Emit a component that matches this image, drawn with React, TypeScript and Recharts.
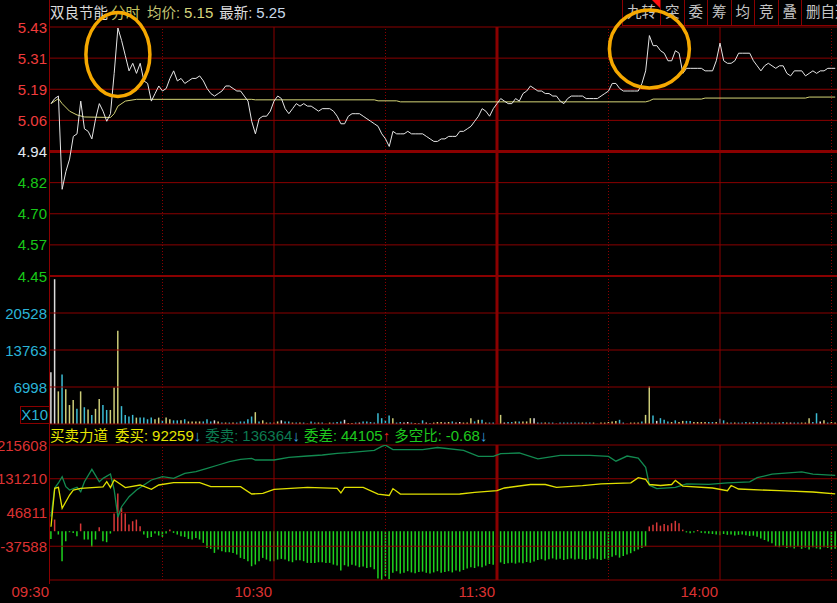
import React from 'react';
import { ComposedChart, Line, Bar, Cell, XAxis, YAxis, ReferenceLine, ReferenceDot } from 'recharts';

// ---------- header / labels ----------
const stockName = '双良节能';
const viewName = '分时';
const avgPriceText = '5.15';
const lastPriceText = '5.25';
const toolButtons = ['九转', '突', '委', '筹', '均', '竞', '叠', '删自选'];

const indicatorName = '买卖力道';
const buyVolume = '92259';
const sellVolume = '136364';
const diffVolume = '44105';
const ratioText = '-0.68';

// ---------- axes ----------
const prevClose = 4.94;
const priceTicks = [5.434, 5.3105, 5.187, 5.0635, 4.94, 4.8165, 4.693, 4.5695, 4.446];
const priceTickLabels = ['5.43', '5.31', '5.19', '5.06', '4.94', '4.82', '4.70', '4.57', '4.45'];

const volumeTicks = [233, 6998, 13763, 20528];
const volumeTickLabels = ['', '6998', '13763', '20528'];
const volumeTop = 27293;
const volumeUnitLabel = 'X10';

const forceTicks = [-121987, -37588, 46811, 131210, 215608];
const forceTickLabels = ['', '-37588', '46811', '131210', '215608'];

const timeTicks = [0, 60, 120, 180];
const timeLabels = ['09:30', '10:30', '11:30', '14:00'];
const solidGridMinutes = [60, 120, 180];
const dottedGridMinutes = [30, 90, 150, 210];
const lunchMinute = 120;
const dayMinutes = 240;

// ---------- series (one value per minute from 09:30) ----------
const priceSeries = [
  5.13, 5.15, 5.16, 4.79, 4.86, 4.91, 5.00, 5.01, 5.14, 5.03, 5.02, 4.99, 5.07, 5.13, 5.10, 5.06, 5.09, 5.25, 5.43, 5.38,
  5.32, 5.26, 5.29, 5.25, 5.29, 5.22, 5.21, 5.14, 5.17, 5.20, 5.18, 5.19, 5.23, 5.26, 5.22, 5.23, 5.21, 5.22, 5.23, 5.23,
  5.24, 5.22, 5.19, 5.17, 5.16, 5.17, 5.18, 5.20, 5.20, 5.19, 5.18, 5.18, 5.16, 5.14, 5.06, 5.01, 5.07, 5.08, 5.08, 5.10,
  5.14, 5.16, 5.15, 5.11, 5.09, 5.11, 5.13, 5.12, 5.13, 5.12, 5.12, 5.11, 5.10, 5.11, 5.11, 5.11, 5.10, 5.08, 5.05, 5.05,
  5.08, 5.09, 5.09, 5.09, 5.08, 5.07, 5.06, 5.05, 5.04, 5.01, 4.99, 4.96, 5.02, 5.01, 5.01, 5.01, 5.02, 5.01, 5.01, 5.01,
  5.01, 5.00, 4.99, 4.98, 4.98, 4.99, 4.99, 5.00, 5.00, 5.00, 5.02, 5.02, 5.03, 5.04, 5.06, 5.08, 5.11, 5.10, 5.08, 5.11,
  5.13, 5.15, 5.14, 5.13, 5.13, 5.15, 5.14, 5.17, 5.18, 5.20, 5.19, 5.18, 5.18, 5.17, 5.17, 5.16, 5.16, 5.14, 5.13, 5.15,
  5.16, 5.16, 5.16, 5.16, 5.15, 5.15, 5.15, 5.15, 5.16, 5.17, 5.18, 5.21, 5.21, 5.19, 5.18, 5.18, 5.18, 5.18, 5.18, 5.21,
  5.26, 5.40, 5.36, 5.36, 5.34, 5.33, 5.30, 5.30, 5.34, 5.33, 5.25, 5.27, 5.27, 5.27, 5.27, 5.27, 5.26, 5.26, 5.26, 5.30,
  5.37, 5.30, 5.29, 5.29, 5.30, 5.33, 5.33, 5.33, 5.33, 5.30, 5.28, 5.26, 5.28, 5.29, 5.28, 5.27, 5.28, 5.28, 5.25, 5.24,
  5.26, 5.26, 5.26, 5.24, 5.25, 5.26, 5.25, 5.26, 5.26, 5.27, 5.27, 5.27,
];

// average price: sampled minutes
const avgMinutes = [0, 2, 3, 5, 7, 9, 16, 17, 18, 20, 23, 54, 55, 87, 88, 93, 94, 160, 161, 162, 175, 176, 203, 204, 211];
const avgValues = [5.13, 5.15, 5.13, 5.10, 5.085, 5.077, 5.075, 5.09, 5.12, 5.14, 5.147, 5.147, 5.145, 5.145, 5.141, 5.141, 5.137, 5.137, 5.141, 5.148, 5.148, 5.152, 5.152, 5.156, 5.156];

const volumeSeries = [
  9700, 26700, 6200, 9300, 6600, 3700, 4600, 3000, 6200, 3300, 2900, 1900, 3000, 4800, 3700, 2800, 2800, 6900, 17300, 3500,
  1900, 1600, 1900, 1400, 1400, 1400, 1100, 1400, 1100, 1400, 900, 1400, 1100, 900, 900, 900, 1100, 700, 700, 700,
  700, 700, 1100, 700, 900, 700, 500, 500, 500, 500, 500, 700, 700, 1100, 1600, 2400, 700, 900, 500, 500,
  500, 700, 900, 700, 700, 500, 500, 500, 500, 300, 700, 500, 500, 500, 300, 500, 500, 600, 700, 1000,
  400, 400, 500, 500, 700, 700, 600, 500, 2200, 1300, 900, 1800, 1300, 500, 600, 500, 600, 500, 400, 400,
  900, 500, 400, 500, 600, 600, 500, 600, 700, 500, 600, 500, 500, 1300, 700, 1000, 1000, 500, 500, 500,
  600, 1900, 500, 600, 600, 700, 700, 700, 700, 1300, 1300, 500, 500, 500, 500, 500, 300, 500, 500, 500,
  500, 500, 500, 500, 500, 500, 500, 300, 500, 500, 600, 700, 800, 1000, 500, 300, 500, 500, 500, 700,
  1900, 7100, 1800, 800, 1300, 1000, 700, 600, 900, 600, 800, 800, 800, 600, 600, 600, 600, 600, 600, 600,
  1200, 900, 500, 500, 500, 500, 500, 600, 500, 600, 600, 500, 500, 500, 500, 500, 500, 600, 500, 500,
  500, 500, 500, 500, 1300, 600, 2200, 700, 900, 500, 600, 500,
];
// y = price up tick, c = down tick, w = unchanged
const volumeDirections =
  'wwycyyycycycyyccyyyc' + 'cccyccccyycyyccycyyy' + 'ycccwycycycccccycyyc' + 'yywccycycyccycyycccw' +
  'yycwccccccccyccwwcyc' + 'cwcyyywycwwyyycycycc' + 'cywccycyyywccyccwccc' + 'cccyccycyyyyyccwyyyc' +
  'yycwcccycyyccyyyyccy' + 'ccycycccyccycyccycyw' + 'ccyyyccwycyy';

// order imbalance (委差) bars
const diffSeries = [
  -19200, 29200, -8300, -75000, -25000, -2500, -4200, -12500, 19200, -20800, -20800, -39200, -20800, 10000, -25000, -27500, -5800, 44200, 94200, 58400,
  44200, 16700, 25000, 29200, 12500, -8300, -16700, -14200, -5800, -10800, -14200, -5800, 4200, -4200, -8300, -12500, -14200, -19200, -20800, -16700,
  -20800, -29200, -41700, -44200, -54200, -45800, -50000, -52500, -52500, -54200, -58400, -66700, -69200, -75000, -87500, -83400, -75000, -66700, -70900, -75000,
  -75000, -70900, -69200, -70900, -75000, -77500, -72500, -72500, -75000, -79200, -79200, -79200, -77500, -77500, -79200, -79200, -83400, -85900, -98000, -85000,
  -88000, -84000, -86000, -90000, -88000, -92000, -90000, -95000, -118000, -124000, -112000, -120000, -104000, -100000, -106000, -104000, -100000, -103000, -105000, -102000,
  -101000, -104000, -106000, -103000, -100000, -104000, -102000, -100000, -103000, -98000, -101000, -97000, -93000, -90000, -92000, -88000, -90000, -86000, -82000, -84000,
  -80000, -78000, -82000, -80000, -79000, -81000, -78000, -80000, -77000, -79000, -76000, -72000, -70000, -73000, -70000, -68000, -71000, -69000, -72000, -70000,
  -68000, -71000, -69000, -70000, -72000, -70000, -68000, -70000, -72000, -69000, -71000, -64000, -60000, -66000, -62000, -58000, -55000, -50000, -46000, -42000,
  -38000, 12000, 16000, 22000, 14000, 18000, 15000, 20000, 26000, 20000, 4000, -3000, -5000, -3000, 3000, -4000, -5000, -6000, -7000, -8000,
  -10000, -7000, -9000, -8000, -11000, -9000, -8000, -10000, -12000, -11000, -14000, -18000, -22000, -26000, -30000, -38000, -40000, -36000, -42000, -40000,
  -43000, -38000, -44000, -41000, -46000, -40000, -43000, -45000, -40000, -42000, -46000, -44000,
];

// 委卖 line (sampled minutes)
const sellMinutes = [0, 1, 2, 3, 4, 5, 7, 8, 9, 11, 13, 14, 16, 17, 18, 19, 21, 23, 25, 27, 30, 33, 36, 39, 42, 45, 48, 51, 54, 55, 60, 64, 69, 73, 77, 80, 87, 89, 90, 92, 100, 104, 111, 115, 119, 121, 126, 131, 137, 145, 150, 152, 155, 158, 160, 161, 163, 168, 171, 177, 182, 188, 190, 194, 202, 205, 211];
const sellValues = [36300, 108100, 120600, 136400, 111300, 103100, 110000, 98900, 123800, 154800, 123800, 132300, 143100, 103100, 35000, 61300, 86300, 103100, 115600, 128100, 136400, 132300, 144800, 148800, 157300, 165600, 173900, 179800, 182300, 178100, 178100, 184800, 188100, 190600, 194800, 196500, 202400, 212000, 215300, 204100, 204100, 209400, 202400, 187100, 187100, 193800, 195600, 181100, 189600, 189600, 187100, 175100, 188000, 183000, 159600, 115100, 106600, 109800, 118600, 117000, 121100, 123500, 133800, 142600, 148600, 142600, 139800];

// 委买 line (sampled minutes)
const buyMinutes = [0, 1, 2, 3, 5, 6, 8, 11, 14, 15, 16, 17, 19, 20, 24, 27, 29, 33, 40, 43, 51, 54, 57, 60, 69, 77, 78, 79, 84, 88, 91, 92, 94, 104, 110, 114, 120, 122, 129, 133, 136, 143, 148, 156, 158, 160, 161, 164, 167, 168, 170, 178, 182, 183, 185, 196, 205, 211];
const buyValues = [11300, 107300, 109800, 57300, 90600, 103100, 107300, 109000, 110800, 123800, 109000, 128100, 115600, 109000, 115600, 104800, 115600, 121400, 121400, 111300, 111300, 93100, 94800, 104800, 109800, 107300, 95600, 109800, 109800, 92800, 89300, 106600, 93100, 92800, 93100, 97300, 101300, 108100, 116800, 116800, 109800, 114000, 118600, 121100, 133800, 129500, 116800, 114300, 116800, 127100, 112800, 108100, 101300, 114300, 105600, 101300, 98100, 93600];

// annotation circles (minute, price)
const highlightMinutes = [18, 161];
const highlightPrices = [5.325, 5.347];

// ---------- styling ----------
const GRID = '#8a0000';
const UP = '#f03c3c';
const DOWN = '#18c818';
const FLAT = '#e2e8f2';
const CYAN = '#2ab4d8';
const AXIS_RED = '#dc3232';
const NUM_FONT = '"Liberation Sans", Arial, "Noto Sans CJK SC", sans-serif';
const CJK_FONT = '"Liberation Sans", "Noto Sans CJK SC", sans-serif';
const volColors: Record<string, string> = { y: '#cccc78', c: '#3cbcd4', w: '#dcdcdc' };

const CHART_W = 943;
const AXIS_W = 50;
const xDomain: [number, number] = [-0.27, dayMinutes];

const avgMap = new Map(avgMinutes.map((m, i) => [m, avgValues[i]]));
const sellMap = new Map(sellMinutes.map((m, i) => [m, sellValues[i]]));
const buyMap = new Map(buyMinutes.map((m, i) => [m, buyValues[i]]));

const rows = priceSeries.map((p, i) => ({
  m: i,
  price: p,
  avg: avgMap.get(i),
  vol: volumeSeries[i],
  dir: volumeDirections[i],
  diff: diffSeries[i],
  sell: sellMap.get(i),
  buy: buyMap.get(i),
}));

const PriceTick = (props: any) => {
  const { x, y, payload } = props;
  const v = payload.value;
  const idx = priceTicks.indexOf(v);
  const color = Math.abs(v - prevClose) < 1e-6 ? FLAT : v > prevClose ? UP : DOWN;
  return (
    <text x={x} y={y} textAnchor="end" dominantBaseline="central" fill={color} fontSize={15} fontFamily={NUM_FONT}>
      {priceTickLabels[idx]}
    </text>
  );
};

const VolumeTick = (props: any) => {
  const { x, y, payload } = props;
  const idx = volumeTicks.indexOf(payload.value);
  return (
    <text x={x} y={y} textAnchor="end" dominantBaseline="central" fill={CYAN} fontSize={15} fontFamily={NUM_FONT}>
      {volumeTickLabels[idx]}
    </text>
  );
};

const ForceTick = (props: any) => {
  const { x, y, payload } = props;
  const idx = forceTicks.indexOf(payload.value);
  return (
    <text x={x} y={y} textAnchor="end" dominantBaseline="central" fill={AXIS_RED} fontSize={15} fontFamily={NUM_FONT}>
      {forceTickLabels[idx]}
    </text>
  );
};

const TimeTick = (props: any) => {
  const { x, y, payload } = props;
  const idx = timeTicks.indexOf(payload.value);
  return (
    <text x={x - 2} y={y} textAnchor="end" dominantBaseline="central" fill={AXIS_RED} fontSize={15} fontFamily={NUM_FONT}>
      {timeLabels[idx]}
    </text>
  );
};

const verticalGrid = () => [
  ...solidGridMinutes.map((m) => (
    <ReferenceLine key={'s' + m} x={m} stroke={GRID} strokeWidth={m === lunchMinute ? 3 : 1} />
  )),
  ...dottedGridMinutes.map((m) => (
    <ReferenceLine key={'d' + m} x={m} stroke={GRID} strokeWidth={1} strokeDasharray="1 2" />
  )),
];

export default function App() {
  return (
    <div
      style={{
        position: 'relative',
        width: 837,
        height: 603,
        background: '#000',
        overflow: 'hidden',
        fontFamily: CJK_FONT,
      }}
    >
      <style>{`body{margin:0;background:#000;}`}</style>

      {/* title line */}
      <div
        style={{
          position: 'absolute',
          left: 50,
          top: 4,
          height: 18,
          lineHeight: '18px',
          fontSize: 14.5,
          whiteSpace: 'nowrap',
        }}
      >
        <span style={{ color: '#dcdcdc', marginRight: 3 }}>{stockName}</span>
        <span style={{ color: '#c4c462', marginRight: 7 }}>{viewName}</span>
        <span style={{ color: '#c4c472' }}>均价: </span>
        <span style={{ color: '#d6d67c', fontSize: 15, marginRight: 6 }}>{avgPriceText}</span>
        <span style={{ color: '#dcdcdc' }}>最新: </span>
        <span style={{ color: '#cad8ea', fontSize: 15 }}>{lastPriceText}</span>
      </div>

      {/* tool buttons */}
      <div
        style={{
          position: 'absolute',
          left: 622,
          top: 0,
          height: 25,
          display: 'flex',
          borderBottom: `1px solid ${GRID}`,
          whiteSpace: 'nowrap',
        }}
      >
        {toolButtons.map((b, i) => (
          <div
            key={b}
            style={{
              position: 'relative',
              padding: '0 4px',
              borderLeft: `1px solid ${GRID}`,
              color: '#c4c4c4',
              fontSize: 14.5,
              lineHeight: '25px',
              flexShrink: 0,
            }}
          >
            {b}
            {i === 0 && (
              <div
                style={{
                  position: 'absolute',
                  right: 0,
                  top: 0,
                  width: 0,
                  height: 0,
                  borderTop: '8px solid #ff1010',
                  borderLeft: '8px solid transparent',
                }}
              />
            )}
          </div>
        ))}
      </div>

      {/* left axis line */}
      <div style={{ position: 'absolute', left: 49, top: 0, width: 1, height: 584, background: GRID }} />

      {/* price pane */}
      <div style={{ position: 'absolute', left: 0, top: 0 }}>
        <ComposedChart width={CHART_W} height={290} data={rows} margin={{ top: 27, right: 0, bottom: 14, left: 0 }}>
          <XAxis dataKey="m" type="number" domain={xDomain} hide allowDataOverflow />
          <YAxis
            domain={[priceTicks[priceTicks.length - 1], priceTicks[0]]}
            ticks={priceTicks}
            interval={0}
            width={AXIS_W}
            axisLine={false}
            tickLine={false}
            tickSize={0}
            tickMargin={3}
            tick={<PriceTick />}
            allowDataOverflow
          />
          {priceTicks.map((v, i) => (
            <ReferenceLine
              key={'h' + v}
              y={v}
              stroke={GRID}
              strokeWidth={Math.abs(v - prevClose) < 1e-6 ? 3 : i === priceTicks.length - 1 ? 2 : 1}
            />
          ))}
          {verticalGrid()}
          <Line dataKey="avg" stroke="#d4d476" strokeWidth={1} dot={false} activeDot={false} connectNulls isAnimationActive={false} />
          <Line dataKey="price" stroke="#e6e6e6" strokeWidth={1} dot={false} activeDot={false} isAnimationActive={false} />
          {highlightMinutes.map((m, i) => (
            <ReferenceDot
              key={'c' + m}
              x={m}
              y={highlightPrices[i]}
              r={1}
              ifOverflow="visible"
              shape={(p: any) => (
                <ellipse
                  cx={p.cx}
                  cy={p.cy}
                  rx={i === 0 ? 32 : 40}
                  ry={i === 0 ? 42 : 39}
                  fill="none"
                  stroke="#f5a800"
                  strokeWidth={3.5}
                />
              )}
            />
          ))}
        </ComposedChart>
      </div>

      {/* volume pane */}
      <div style={{ position: 'absolute', left: 0, top: 272 }}>
        <ComposedChart width={CHART_W} height={158} data={rows} margin={{ top: 4, right: 0, bottom: 6, left: 0 }}>
          <XAxis dataKey="m" type="number" domain={xDomain} hide allowDataOverflow />
          <YAxis
            domain={[volumeTicks[0], volumeTop]}
            ticks={volumeTicks}
            interval={0}
            width={AXIS_W}
            axisLine={false}
            tickLine={false}
            tickSize={0}
            tickMargin={3}
            tick={<VolumeTick />}
            allowDataOverflow
          />
          {volumeTicks.map((v) => (
            <ReferenceLine key={'vh' + v} y={v} stroke={GRID} strokeWidth={1} />
          ))}
          {verticalGrid()}
          <Bar dataKey="vol" barSize={1.5} isAnimationActive={false}>
            {rows.map((r) => (
              <Cell key={r.m} fill={volColors[r.dir]} />
            ))}
          </Bar>
        </ComposedChart>
      </div>

      {/* volume unit box */}
      <div
        style={{
          position: 'absolute',
          left: 20,
          top: 406,
          width: 27,
          height: 16,
          border: `1px solid ${GRID}`,
          color: CYAN,
          fontSize: 15,
          lineHeight: '16px',
          textAlign: 'right',
          fontFamily: NUM_FONT,
          paddingRight: 1,
        }}
      >
        {volumeUnitLabel}
      </div>

      {/* indicator title */}
      <div
        style={{
          position: 'absolute',
          left: 50,
          top: 427,
          height: 18,
          lineHeight: '18px',
          fontSize: 14.5,
          whiteSpace: 'nowrap',
        }}
      >
        <span style={{ color: '#e6e600', marginRight: 7 }}>{indicatorName}</span>
        <span style={{ color: '#e6e600' }}>委买: </span>
        <span style={{ color: '#e6e600', fontSize: 15 }}>{buyVolume}</span>
        <span style={{ color: '#3ca6e0', fontSize: 15, marginRight: 4 }}>↓</span>
        <span style={{ color: '#0c7a50' }}>委卖: </span>
        <span style={{ color: '#0c7a50', fontSize: 15 }}>{sellVolume}</span>
        <span style={{ color: '#3ca6e0', fontSize: 15, marginRight: 4 }}>↓</span>
        <span style={{ color: '#1ec81e' }}>委差: </span>
        <span style={{ color: '#1ec81e', fontSize: 15 }}>{diffVolume}</span>
        <span style={{ color: '#e02020', fontSize: 15, marginRight: 4 }}>↑</span>
        <span style={{ color: '#1ec81e' }}>多空比: </span>
        <span style={{ color: '#1ec81e', fontSize: 15 }}>{ratioText}</span>
        <span style={{ color: '#3ca6e0', fontSize: 15 }}>↓</span>
      </div>

      {/* indicator pane */}
      <div style={{ position: 'absolute', left: 0, top: 440 }}>
        <ComposedChart width={CHART_W} height={163} data={rows} margin={{ top: 5, right: 0, bottom: 0, left: 0 }}>
          <XAxis
            dataKey="m"
            type="number"
            domain={xDomain}
            ticks={timeTicks}
            interval={0}
            height={23}
            axisLine={false}
            tickLine={false}
            tickSize={0}
            tickMargin={11}
            tick={<TimeTick />}
            allowDataOverflow
          />
          <YAxis
            domain={[forceTicks[0], forceTicks[forceTicks.length - 1]]}
            ticks={forceTicks}
            interval={0}
            width={AXIS_W}
            axisLine={false}
            tickLine={false}
            tickSize={0}
            tickMargin={3}
            tick={<ForceTick />}
            allowDataOverflow
          />
          {forceTicks.map((v) => (
            <ReferenceLine key={'fh' + v} y={v} stroke={GRID} strokeWidth={1} />
          ))}
          {verticalGrid()}
          <Bar dataKey="diff" barSize={1.5} isAnimationActive={false}>
            {rows.map((r) => (
              <Cell key={r.m} fill={r.diff > 0 ? '#d83838' : '#1ed21e'} />
            ))}
          </Bar>
          <Line dataKey="sell" stroke="#128a50" strokeWidth={1.3} dot={false} activeDot={false} connectNulls isAnimationActive={false} />
          <Line dataKey="buy" stroke="#e0e000" strokeWidth={1.3} dot={false} activeDot={false} connectNulls isAnimationActive={false} />
        </ComposedChart>
      </div>
    </div>
  );
}
